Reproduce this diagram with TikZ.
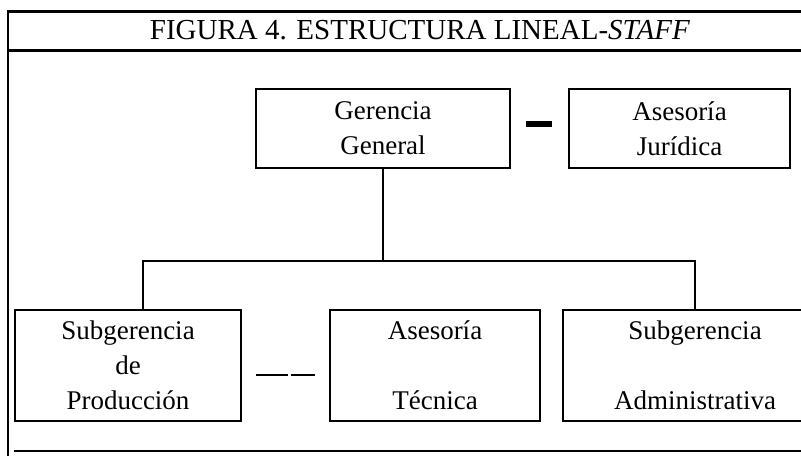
\documentclass[tikz,border=0pt]{standalone}
\usepackage{fontspec}
\setmainfont{Liberation Serif}
\begin{document}
\begin{tikzpicture}[x=1pt, y=-1pt, line width=2pt,
		box/.style={draw, rectangle, inner sep=0pt, align=center, font=\fontsize{27}{35}\selectfont}]
		\useasboundingbox (0,0) rectangle (801,459);
		% marco y titulo
		\draw[line width=3pt] (8,11) -- (801,11);
		\draw[line width=3pt] (8,50) -- (801,50);
		\draw (8,10) -- (8,456);
		\draw[line width=1.5pt] (14,451) -- (801,451);
		\node[font=\fontsize{29}{35}\selectfont] (titulo) at (420,30) {FIGURA 4. ESTRUCTURA LINEAL-\textit{STAFF}};
		
		\node[box, minimum width=254pt, minimum height=79pt] (ger) at (383,128.5) {Gerencia\\General};
		\node[box, minimum width=221pt, minimum height=79pt] (jur) at (679.5,128.5) {Asesoría\\Jurídica};
		\node[box, minimum width=226pt, minimum height=111pt] (prod) at (128,365.5) {Subgerencia\\de\\Producción};
		\node[box, minimum width=210pt, minimum height=111pt] (tec) at (435,365.5) {Asesoría\\[35pt]Técnica};
		\node[box, minimum width=264pt, minimum height=111pt] (adm) at (695,365.5) {Subgerencia\\[35pt]Administrativa};
		
		\coordinate (barL) at (143,261);
		\coordinate (barR) at (695,261);
		\draw (ger.south) -- (ger.south |- barL);
		\draw (prod.north -| barL) -- (barL) -- (barR) -- (adm.north -| barR);
		\draw[line width=6pt, shorten <=15pt, shorten >=16pt] ([yshift=4.5pt]ger.east) -- ([yshift=4.5pt]jur.west);
		\draw[line width=2.5pt, dash pattern=on 32pt off 3pt, shorten <=14pt, shorten >=14pt] ([yshift=-9.5pt]prod.east) -- ([yshift=-9.5pt]tec.west);
	\end{tikzpicture}
\end{document}
